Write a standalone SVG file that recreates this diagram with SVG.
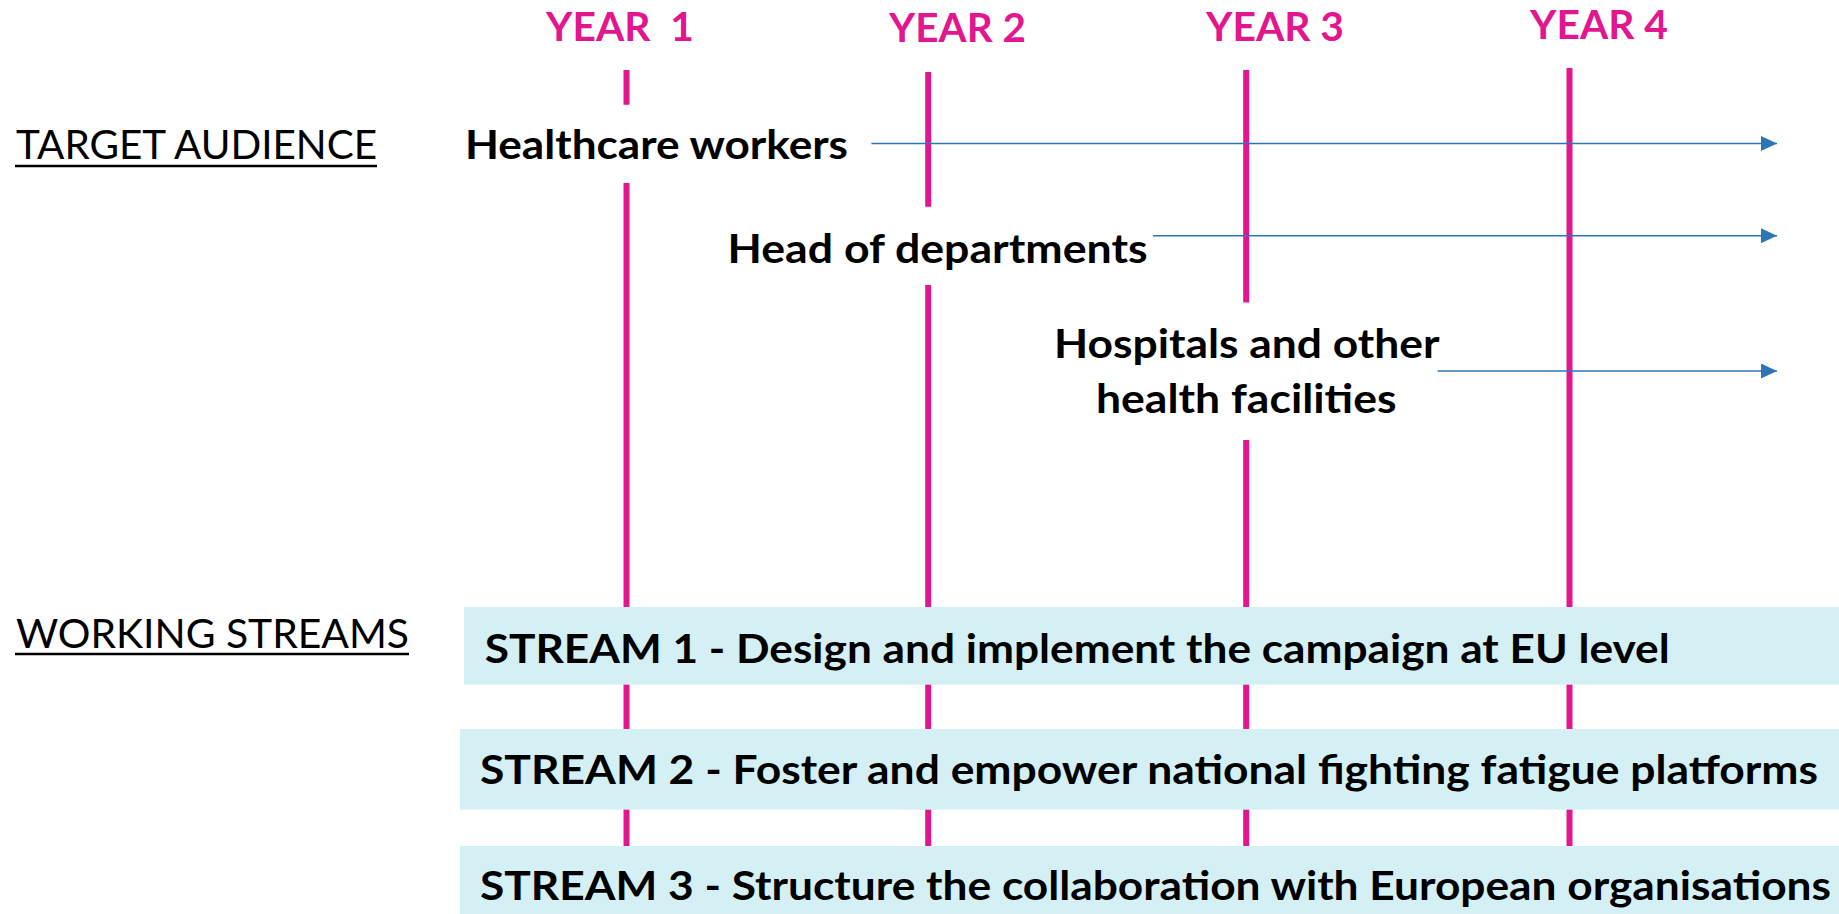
<svg xmlns="http://www.w3.org/2000/svg" width="1839" height="914" viewBox="0 0 1839 914">
<style>
.bg{fill:#ffffff}
.yr{font-family:Lato,"Liberation Sans",sans-serif;font-weight:700;font-size:41px;fill:#E2168E}
.yl{stroke:#E2168E;stroke-width:6;fill:none}
.hd{font-family:Lato,"Liberation Sans",sans-serif;font-weight:400;font-size:40px;fill:#000}
.ul{stroke:#000;stroke-width:2.5}
.lb{font-family:Lato,"Liberation Sans",sans-serif;font-weight:700;font-size:41px;fill:#000}
.box{fill:#D5F0F4}
.arr{stroke:#2E75B6;stroke-width:1.6;fill:none;marker-end:url(#ah)}
</style>
<defs>
<marker id="ah" viewBox="0 0 16 15" refX="16" refY="7.5" markerWidth="16" markerHeight="15" markerUnits="userSpaceOnUse" orient="auto">
<path d="M0,0 L16,7.5 L0,15 Z" fill="#2E75B6"/>
</marker>
</defs>
<rect class="bg" x="0" y="0" width="1839" height="914"/>

<g id="year1">
<text class="yr" x="546" y="40.7" textLength="148" lengthAdjust="spacingAndGlyphs" xml:space="preserve">YEAR  1</text>
<path class="yl" d="M626.5,70 V104.7 M626.5,183 V914"/>
</g>
<g id="year2">
<text class="yr" x="889" y="41.7" textLength="137" lengthAdjust="spacingAndGlyphs">YEAR 2</text>
<path class="yl" d="M928.2,72 V206.7 M928.2,285 V914"/>
</g>
<g id="year3">
<text class="yr" x="1206" y="40.7" textLength="138" lengthAdjust="spacingAndGlyphs">YEAR 3</text>
<path class="yl" d="M1246.2,70 V302.6 M1246.2,440 V914"/>
</g>
<g id="year4">
<text class="yr" x="1530" y="39" textLength="138" lengthAdjust="spacingAndGlyphs">YEAR 4</text>
<path class="yl" d="M1569.5,68 V914"/>
</g>

<g id="target-audience">
<text class="hd" x="16" y="159.3" textLength="361" lengthAdjust="spacingAndGlyphs">TARGET AUDIENCE</text>
<line class="ul" x1="15" y1="166" x2="377" y2="166"/>
</g>
<g id="working-streams">
<text class="hd" x="16" y="647.7" textLength="393" lengthAdjust="spacingAndGlyphs">WORKING STREAMS</text>
<line class="ul" x1="15" y1="654" x2="409" y2="654"/>
</g>

<g id="healthcare-workers">
<text class="lb" x="465" y="159.3" textLength="383" lengthAdjust="spacingAndGlyphs">Healthcare workers</text>
</g>
<g id="head-of-departments">
<text class="lb" x="727.6" y="262.7" textLength="420" lengthAdjust="spacingAndGlyphs">Head of departments</text>
</g>
<g id="hospitals">
<text class="lb" x="1054" y="358.3" textLength="385.5" lengthAdjust="spacingAndGlyphs">Hospitals and other</text>
<text class="lb" x="1096" y="413.3" textLength="300.5" lengthAdjust="spacingAndGlyphs">health facilities</text>
</g>

<g id="connectors">
<line class="arr" x1="871.4" y1="143.5" x2="1777" y2="143.5"/>
<line class="arr" x1="1153" y1="235.7" x2="1777" y2="235.7"/>
<line class="arr" x1="1437.6" y1="371" x2="1777" y2="371"/>
</g>

<g id="stream1">
<rect class="box" x="464" y="607" width="1375" height="77.7"/>
<text class="lb" x="484.7" y="662.7" textLength="1185" lengthAdjust="spacingAndGlyphs">STREAM 1 - Design and implement the campaign at EU level</text>
</g>
<g id="stream2">
<rect class="box" x="460" y="729" width="1379" height="80.7"/>
<text class="lb" x="480" y="784.3" textLength="1338" lengthAdjust="spacingAndGlyphs">STREAM 2 - Foster and empower national fighting fatigue platforms</text>
</g>
<g id="stream3">
<rect class="box" x="460" y="846" width="1379" height="68"/>
<text class="lb" x="480" y="900" textLength="1351" lengthAdjust="spacingAndGlyphs">STREAM 3 - Structure the collaboration with European organisations</text>
</g>
</svg>
